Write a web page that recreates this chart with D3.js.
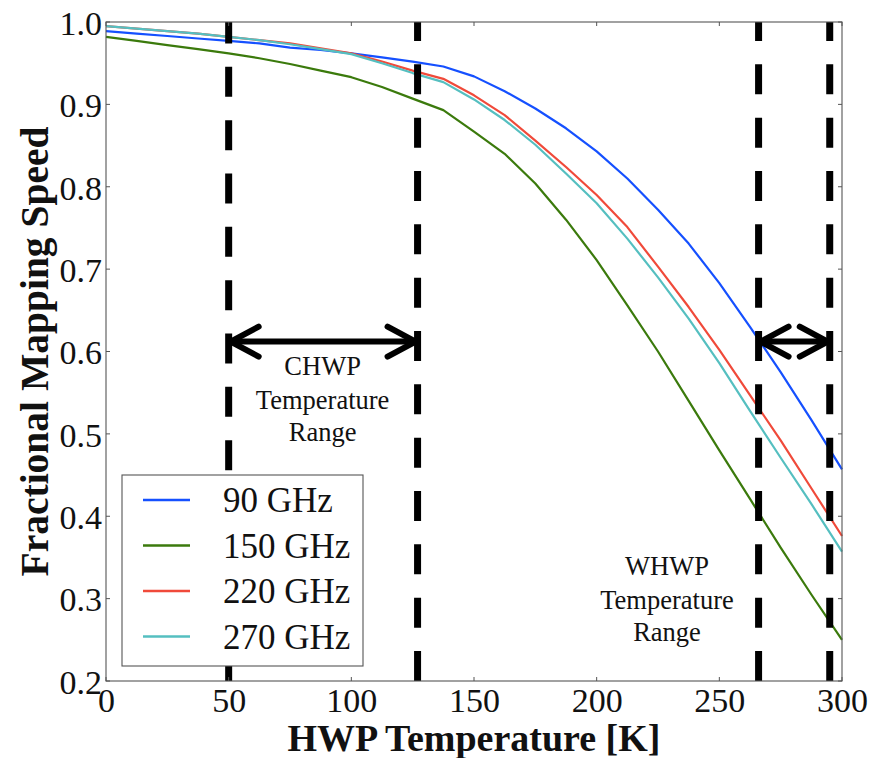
<!DOCTYPE html>
<html>
<head>
<meta charset="utf-8">
<script src="https://cdn.jsdelivr.net/npm/d3@7"></script>
<style>
  html, body { margin: 0; padding: 0; background: #fff; }
  svg { display: block; }
  text { font-family: "Liberation Serif", "Times New Roman", serif; fill: #111; }
</style>
</head>
<body>
<svg id="chart" width="885" height="758"></svg>
<script>
// HWP temperature samples [K]
const temperatures = [0, 12.5, 25, 37.5, 50, 62.5, 75, 87.5, 100, 112.5, 125, 137.5,
  150, 162.5, 175, 187.5, 200, 212.5, 225, 237.5, 250, 262.5, 275, 287.5, 300];

// Fractional mapping speed per band
const speed90 = [0.989, 0.986, 0.983, 0.980, 0.977, 0.974, 0.969, 0.966, 0.962, 0.957, 0.952, 0.946,
  0.934, 0.916, 0.895, 0.871, 0.843, 0.810, 0.772, 0.731, 0.683, 0.630, 0.575, 0.517, 0.457];
const speed150 = [0.982, 0.977, 0.972, 0.967, 0.962, 0.956, 0.949, 0.941, 0.933, 0.921, 0.907, 0.893,
  0.867, 0.840, 0.804, 0.760, 0.711, 0.656, 0.600, 0.540, 0.480, 0.421, 0.362, 0.305, 0.250];
const speed220 = [0.995, 0.992, 0.989, 0.986, 0.982, 0.978, 0.974, 0.968, 0.962, 0.952, 0.941, 0.931,
  0.911, 0.887, 0.856, 0.824, 0.790, 0.751, 0.703, 0.654, 0.602, 0.547, 0.492, 0.434, 0.376];
const speed270 = [0.995, 0.992, 0.989, 0.986, 0.982, 0.978, 0.973, 0.967, 0.961, 0.950, 0.938, 0.927,
  0.906, 0.881, 0.851, 0.816, 0.780, 0.737, 0.690, 0.640, 0.586, 0.528, 0.471, 0.415, 0.357];

const seriesNames = ["90 GHz", "150 GHz", "220 GHz", "270 GHz"];
const seriesValues = [speed90, speed150, speed220, speed270];
const seriesColors = ["#1550ff", "#3b7a0c", "#f04a3a", "#55bfc0"];

const xTicks = [0, 50, 100, 150, 200, 250, 300];
const yTicks = [0.2, 0.3, 0.4, 0.5, 0.6, 0.7, 0.8, 0.9, 1.0];

// Operating temperature ranges (cryogenic and warm HWP)
const chwpRange = [50, 127];
const whwpRange = [266, 295];
const rangeArrowLevel = 0.612;
const chwpLabel = ["CHWP", "Temperature", "Range"];
const whwpLabel = ["WHWP", "Temperature", "Range"];

const margin = { left: 106, right: 43, top: 22, bottom: 77 };
const W = 885, H = 758;
const svg = d3.select("#chart");

const x = d3.scaleLinear().domain([0, 300]).range([margin.left, W - margin.right]);
const y = d3.scaleLinear().domain([0.2, 1.0]).range([H - margin.bottom, margin.top]);

const x0 = x.range()[0], x1 = x.range()[1];
const yB = y.range()[0], yT = y.range()[1];

// Curves
const line = d3.line()
  .x(d => x(d[0]))
  .y(d => y(d[1]));

seriesValues.forEach((vals, i) => {
  svg.append("path")
    .datum(temperatures.map((t, j) => [t, vals[j]]))
    .attr("d", line)
    .attr("fill", "none")
    .attr("stroke", seriesColors[i])
    .attr("stroke-width", 2.2)
    .attr("stroke-linejoin", "round");
});

// Range boundaries, dashed, drawn upward from the bottom of the axes
const boundaries = [chwpRange[0], chwpRange[1], whwpRange[0], whwpRange[1]];
boundaries.forEach((t, i) => {
  svg.append("line")
    .attr("x1", x(t)).attr("x2", x(t))
    .attr("y1", yB).attr("y2", yT)
    .attr("stroke", "#000")
    .attr("stroke-width", 7)
    .attr("stroke-dasharray", "30,23.33")
    .attr("stroke-dashoffset", i === 0 ? 2.5 : 0);
});

// Double-headed arrows marking each range
function rangeArrow(t0, t1, v) {
  const ax0 = x(t0) + 2, ax1 = x(t1) - 2, ay = y(v);
  const hl = 28, hw = 15;
  const g = svg.append("g")
    .attr("fill", "none")
    .attr("stroke", "#000")
    .attr("stroke-width", 6)
    .attr("stroke-linecap", "round")
    .attr("stroke-linejoin", "round");
  g.append("line").attr("x1", ax0).attr("x2", ax1).attr("y1", ay).attr("y2", ay);
  g.append("path").attr("d", `M${ax0 + hl},${ay - hw}L${ax0},${ay}L${ax0 + hl},${ay + hw}`);
  g.append("path").attr("d", `M${ax1 - hl},${ay - hw}L${ax1},${ay}L${ax1 - hl},${ay + hw}`);
}
rangeArrow(chwpRange[0], chwpRange[1], rangeArrowLevel);
rangeArrow(whwpRange[0], whwpRange[1], rangeArrowLevel);

// Range labels
function rangeLabel(lines, cx, baseline) {
  const t = svg.append("text")
    .attr("text-anchor", "middle")
    .attr("font-size", 26.5);
  lines.forEach((s, i) => {
    t.append("tspan").attr("x", cx).attr("y", baseline + [0, 34, 66][i]).text(s);
  });
}
rangeLabel(chwpLabel, x((chwpRange[0] + chwpRange[1]) / 2) - 0.5, 375);
rangeLabel(whwpLabel, 667, 575);

// Frame and inward ticks on all four sides
const frameColor = "#555";
svg.append("rect")
  .attr("x", x0).attr("y", yT)
  .attr("width", x1 - x0).attr("height", yB - yT)
  .attr("fill", "none").attr("stroke", frameColor).attr("stroke-width", 1.1);

const tickLen = 4;
xTicks.forEach(t => {
  svg.append("line").attr("x1", x(t)).attr("x2", x(t)).attr("y1", yB).attr("y2", yB - tickLen)
    .attr("stroke", frameColor);
  svg.append("line").attr("x1", x(t)).attr("x2", x(t)).attr("y1", yT).attr("y2", yT + tickLen)
    .attr("stroke", frameColor);
});
yTicks.forEach(v => {
  svg.append("line").attr("x1", x0).attr("x2", x0 + tickLen).attr("y1", y(v)).attr("y2", y(v))
    .attr("stroke", frameColor);
  svg.append("line").attr("x1", x1).attr("x2", x1 - tickLen).attr("y1", y(v)).attr("y2", y(v))
    .attr("stroke", frameColor);
});

// Tick labels
const xAxis = d3.axisBottom(x).tickValues(xTicks).tickSize(0).tickPadding(0).tickFormat(d3.format("d"));
const gx = svg.append("g").attr("transform", `translate(0,${yB})`).call(xAxis);
gx.select(".domain").remove();
gx.selectAll("text")
  .attr("y", 31).attr("dy", null)
  .attr("font-size", 34)
  .attr("font-family", "Liberation Serif, serif")
  .attr("fill", "#222");

const yAxis = d3.axisLeft(y).tickValues(yTicks).tickSize(0).tickPadding(0).tickFormat(d3.format(".1f"));
const gy = svg.append("g").attr("transform", `translate(${x0 - 4},0)`).call(yAxis);
gy.select(".domain").remove();
gy.selectAll("text")
  .attr("x", 0).attr("dy", "0.36em")
  .attr("font-size", 34)
  .attr("font-family", "Liberation Serif, serif")
  .attr("fill", "#222");

// Axis titles
svg.append("text")
  .attr("x", (x0 + x1) / 2).attr("y", 751)
  .attr("text-anchor", "middle")
  .attr("font-size", 38).attr("font-weight", "bold")
  .text("HWP Temperature [K]");

svg.append("text")
  .attr("transform", `translate(48,${(yT + yB) / 2}) rotate(-90)`)
  .attr("text-anchor", "middle")
  .attr("font-size", 39.5).attr("font-weight", "bold")
  .text("Fractional Mapping Speed");

// Legend
const legend = svg.append("g").attr("transform", "translate(122,475)");
legend.append("rect")
  .attr("width", 241).attr("height", 191)
  .attr("fill", "#fff").attr("stroke", frameColor).attr("stroke-width", 1.1);
seriesNames.forEach((name, i) => {
  const ly = 25 + i * 45.5;
  legend.append("line")
    .attr("x1", 21).attr("x2", 68).attr("y1", ly).attr("y2", ly)
    .attr("stroke", seriesColors[i]).attr("stroke-width", 2.5);
  legend.append("text")
    .attr("x", 101).attr("y", ly + 12)
    .attr("font-size", 35)
    .text(name);
});
</script>
</body>
</html>
